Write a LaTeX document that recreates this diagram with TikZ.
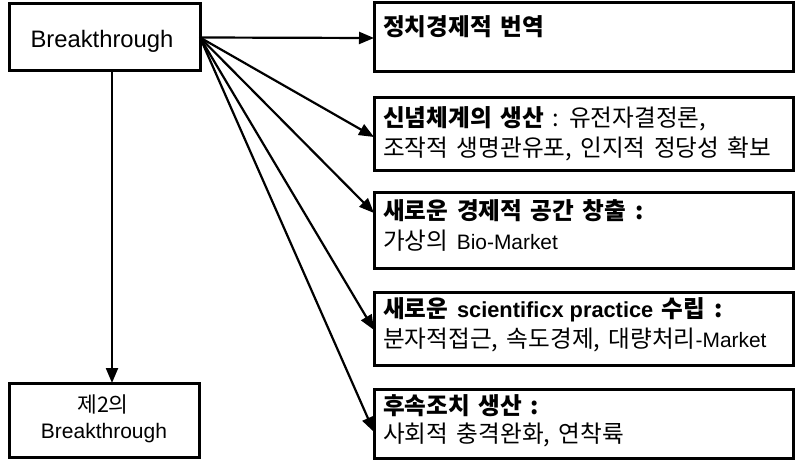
\documentclass[tikz,border=0pt]{standalone}
\usepackage{fontspec}
\setmainfont{Liberation Sans}
\newfontfamily\ko[Scale=1.13,WordSpace=1.6]{Noto Sans CJK KR}
\usetikzlibrary{arrows.meta}
\begin{document}
\begin{tikzpicture}[x=1pt,y=-1pt,
  box/.style={draw, line width=3pt, inner sep=0pt, outer sep=0pt, anchor=north west},
  txt/.style={inner sep=0pt, anchor=base west, font=\fontsize{20.9pt}{24pt}\selectfont},
  lbl/.style={inner sep=0pt, anchor=base, font=\fontsize{21pt}{24pt}\selectfont},
  arr/.style={line width=2.2pt, -{Triangle[length=15pt,width=12pt]}},
]
\useasboundingbox (0,0) rectangle (795,460);
% boxes
\node[box, minimum width=191pt, minimum height=67pt] (bt) at (9,4) {};
\node[box, minimum width=190pt, minimum height=74pt] (bsec) at (9,383) {};
\node[box, minimum width=419pt, minimum height=69pt] (b1) at (374,3) {};
\node[box, minimum width=419pt, minimum height=73pt] (b2) at (374,97) {};
\node[box, minimum width=419pt, minimum height=76pt] (b3) at (374,192) {};
\node[box, minimum width=419pt, minimum height=73pt] (b4) at (374,292) {};
\node[box, minimum width=419pt, minimum height=69pt] (b5) at (374,389) {};
% texts
\node[lbl, font=\fontsize{23.8pt}{26pt}\selectfont] (btl) at (102,48) {Breakthrough};
\node[lbl, font=\fontsize{19pt}{24pt}\selectfont] (bsl1) at (103,412) {{\ko 제2의}};
\node[lbl] (bsl2) at (104,438) {Breakthrough};
\node[txt] (t1a) at (383,36) {{\ko\bfseries 정치경제적 번역}};
\node[txt] (t2a) at (383,126) {{\ko\bfseries 신념체계의 생산}{\ko{} : 유전자결정론,}};
\node[txt] (t2b) at (383,156) {{\ko 조작적 생명관유포, 인지적 정당성 확보}};
\node[txt] (t3a) at (383,219) {{\ko\bfseries 새로운 경제적 공간 창출 :}};
\node[txt] (t3b) at (383,249) {{\ko 가상의 }Bio-Market};
\node[txt] (t4a) at (383,317) {{\ko\bfseries 새로운 }{\fontsize{21.8pt}{24pt}\selectfont\bfseries scientificx practice}{\ko\bfseries{} 수립 :}};
\node[txt] (t4b) at (383,347) {{\ko 분자적접근, 속도경제, 대량처리}-Market};
\node[txt] (t5a) at (383,414) {{\ko\bfseries 후속조치 생산 :}};
\node[txt] (t5b) at (383,442) {{\ko 사회적 충격완화, 연착륙}};
% connectors
\draw[arr] (bt.east) -- ([yshift=-35pt]b1.north west);
\draw[arr] (bt.east) -- ([yshift=-40pt]b2.north west);
\draw[arr] (bt.east) -- ([yshift=-21pt]b3.north west);
\draw[arr] (bt.east) -- ([yshift=-38pt]b4.north west);
\draw[arr] (bt.east) -- ([yshift=-43pt]b5.north west);
\draw[arr] ([xshift=7.5pt]bt.south) -- ([xshift=8pt]bsec.north);
\end{tikzpicture}
\end{document}
